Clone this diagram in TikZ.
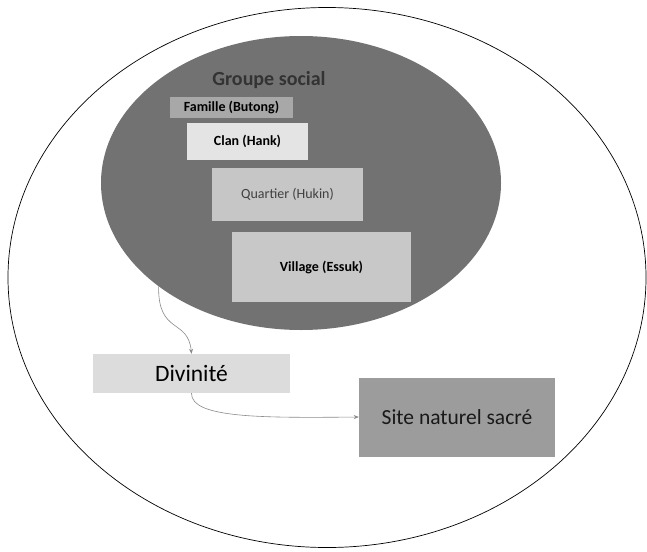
\documentclass[tikz,border=0pt]{standalone}
\usepackage{fontspec}
\setmainfont{Carlito}
\usetikzlibrary{shapes.geometric,arrows.meta}
\definecolor{darkgrp}{HTML}{727272}
\definecolor{famc}{HTML}{A8A8A8}
\definecolor{clanc}{HTML}{E4E4E4}
\definecolor{quarc}{HTML}{C6C6C6}
\definecolor{villc}{HTML}{C8C8C8}
\definecolor{divc}{HTML}{DCDCDC}
\definecolor{sitec}{HTML}{9C9C9C}
\definecolor{linec}{HTML}{8A8A8A}
\tikzset{
  box/.style={rectangle, inner sep=0pt, text=black, font=\fontsize{14}{16}\selectfont\bfseries},
  conn/.style={draw=linec, line width=0.6pt, -{Stealth[length=5pt,width=4pt]}}
}
\begin{document}
\begin{tikzpicture}[x=1pt,y=-1pt]
\useasboundingbox (0,0) rectangle (647,551);
\node[ellipse, draw=black, line width=0.7pt, minimum width=638pt, minimum height=540pt, inner sep=0pt] (outer) at (327,277.5) {};
\node[ellipse, fill=darkgrp, minimum width=400pt, minimum height=294pt, inner sep=0pt] (grp) at (301,183) {};
\node[text=black!80, font=\fontsize{20}{22}\selectfont\bfseries] (title) at (269,80) {Groupe social};
\node[box, fill=famc, minimum width=123pt, minimum height=21pt] (fam) at (231.5,107.5) {Famille (Butong)};
\node[box, fill=clanc, minimum width=121pt, minimum height=37pt] (clan) at (247.5,141.5) {Clan (Hank)};
\node[box, fill=quarc, minimum width=151pt, minimum height=53pt, font=\fontsize{14}{16}\selectfont, text=black!75] (quar) at (287.5,194.5) {Quartier (Hukin)};
\node[box, fill=villc, minimum width=179pt, minimum height=70pt] (vill) at (321.5,267) {Village (Essuk)};
\node[box, fill=divc, minimum width=197pt, minimum height=39pt, font=\fontsize{23.5}{25}\selectfont] (div) at (191.5,373.5) {Divinité};
\node[box, fill=sitec, minimum width=196pt, minimum height=79pt, font=\fontsize{21.5}{23}\selectfont, text=black!90] (site) at (457,417) {Site naturel sacré};
\draw[conn] (grp.216) .. controls (158,335) and (188,318) .. (div.north);
\draw[conn] (div.south) .. controls (191,418) and (260,418) .. (site.west);
\end{tikzpicture}
\end{document}
